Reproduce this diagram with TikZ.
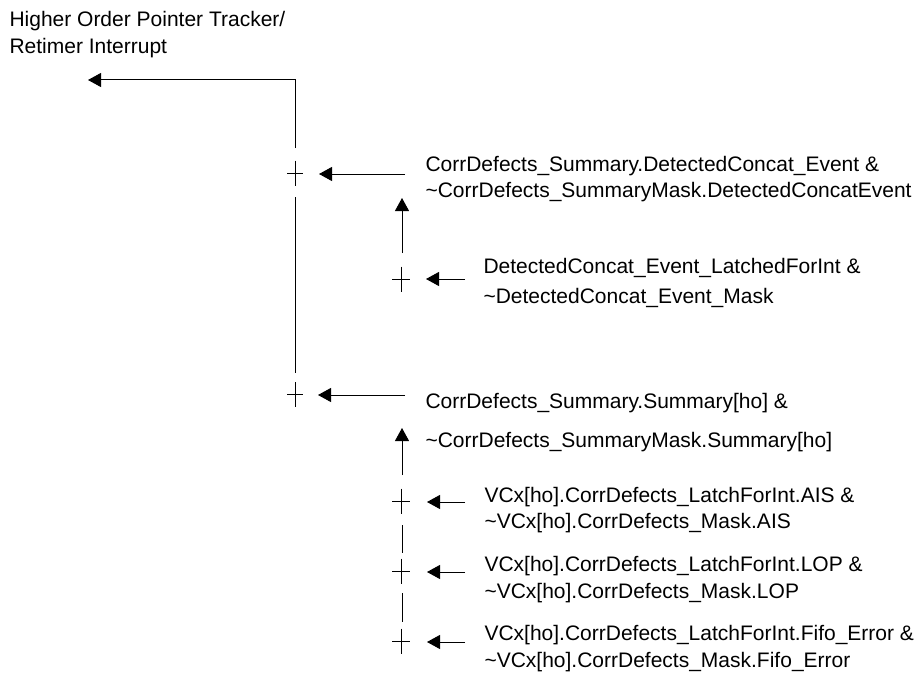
\documentclass[tikz,border=0pt]{standalone}
\usepackage{fontspec}
\setmainfont{Liberation Sans}
\usetikzlibrary{arrows.meta}
\begin{document}
\begin{tikzpicture}[x=1pt,y=-1pt,
  line width=1pt,
  lbl/.style={anchor=base west,inner sep=0pt,font=\fontsize{21}{25}\selectfont},
  arr/.style={-{Triangle[length=13pt,width=14pt]}},
  plusA/.style={minimum width=16pt,minimum height=25pt,inner sep=0pt,
    path picture={\draw[line width=1pt] (path picture bounding box.west) -- (path picture bounding box.east)
      (path picture bounding box.north) -- (path picture bounding box.south);}},
  plusB/.style={plusA,minimum width=18pt,minimum height=25pt}]
\useasboundingbox (0,0) rectangle (924,677);

% header
\node[lbl] (h1) at (9,27) {Higher Order Pointer Tracker/};
\node[lbl] (h2) at (9,54) {Retimer Interrupt};

% labels
\node[lbl] (t1a) at (425,171) {CorrDefects\_Summary.DetectedConcat\_Event \&};
\node[lbl] (t1b) at (425,197) {\textasciitilde CorrDefects\_SummaryMask.DetectedConcatEvent};
\node[lbl] (t2a) at (483,273) {DetectedConcat\_Event\_LatchedForInt \&};
\node[lbl] (t2b) at (483,303) {\textasciitilde DetectedConcat\_Event\_Mask};
\node[lbl] (t3a) at (425,408) {CorrDefects\_Summary.Summary[ho] \&};
\node[lbl] (t3b) at (425,447) {\textasciitilde CorrDefects\_SummaryMask.Summary[ho]};
\node[lbl] (t4a) at (484,502) {VCx[ho].CorrDefects\_LatchForInt.AIS \&};
\node[lbl] (t4b) at (484,528) {\textasciitilde VCx[ho].CorrDefects\_Mask.AIS};
\node[lbl] (t5a) at (484,571) {VCx[ho].CorrDefects\_LatchForInt.LOP \&};
\node[lbl] (t5b) at (484,598) {\textasciitilde VCx[ho].CorrDefects\_Mask.LOP};
\node[lbl] (t6a) at (484,640) {VCx[ho].CorrDefects\_LatchForInt.Fifo\_Error \&};
\node[lbl] (t6b) at (484,667) {\textasciitilde VCx[ho].CorrDefects\_Mask.Fifo\_Error};

% plus signs
\node[plusA] (p1) at (295,173) {};
\node[plusA] (p2) at (295,394.5) {};
\node[plusB] (p3) at (401,279) {};
\node[plusB] (p4) at (401,501) {};
\node[plusB] (p5) at (401,571) {};
\node[plusB] (p6) at (401,641) {};

% coordinates
\coordinate (topS) at (295,148);
\coordinate (topC) at (295,80);
\coordinate (topT) at (88,80);
\coordinate (m1) at (295,197);
\coordinate (m2) at (295,373);
\coordinate (a1s) at (405,174);  \coordinate (a1e) at (319,174);
\coordinate (a2s) at (405,395);  \coordinate (a2e) at (318,395);
\coordinate (a3s) at (465,279);  \coordinate (a3e) at (426,279);
\coordinate (u1s) at (402,253);  \coordinate (u1e) at (402,198);
\coordinate (u2s) at (402,475);  \coordinate (u2e) at (402,428);
\coordinate (a4s) at (465,502);  \coordinate (a4e) at (427,502);
\coordinate (a5s) at (465,572);  \coordinate (a5e) at (427,572);
\coordinate (a6s) at (465,642);  \coordinate (a6e) at (427,642);
\coordinate (d1s) at (402,525);  \coordinate (d1e) at (402,553);
\coordinate (d2s) at (402,593);  \coordinate (d2e) at (402,622);

% connectors
\draw[arr] (topS) -- (topC) -- (topT);
\draw (m1) -- (m2);
\draw[arr] (a1s) -- (a1e);
\draw[arr] (a2s) -- (a2e);
\draw[arr] (a3s) -- (a3e);
\draw[arr] (u1s) -- (u1e);
\draw[arr] (u2s) -- (u2e);
\draw[arr] (a4s) -- (a4e);
\draw[arr] (a5s) -- (a5e);
\draw[arr] (a6s) -- (a6e);
\draw (d1s) -- (d1e);
\draw (d2s) -- (d2e);
\end{tikzpicture}
\end{document}
